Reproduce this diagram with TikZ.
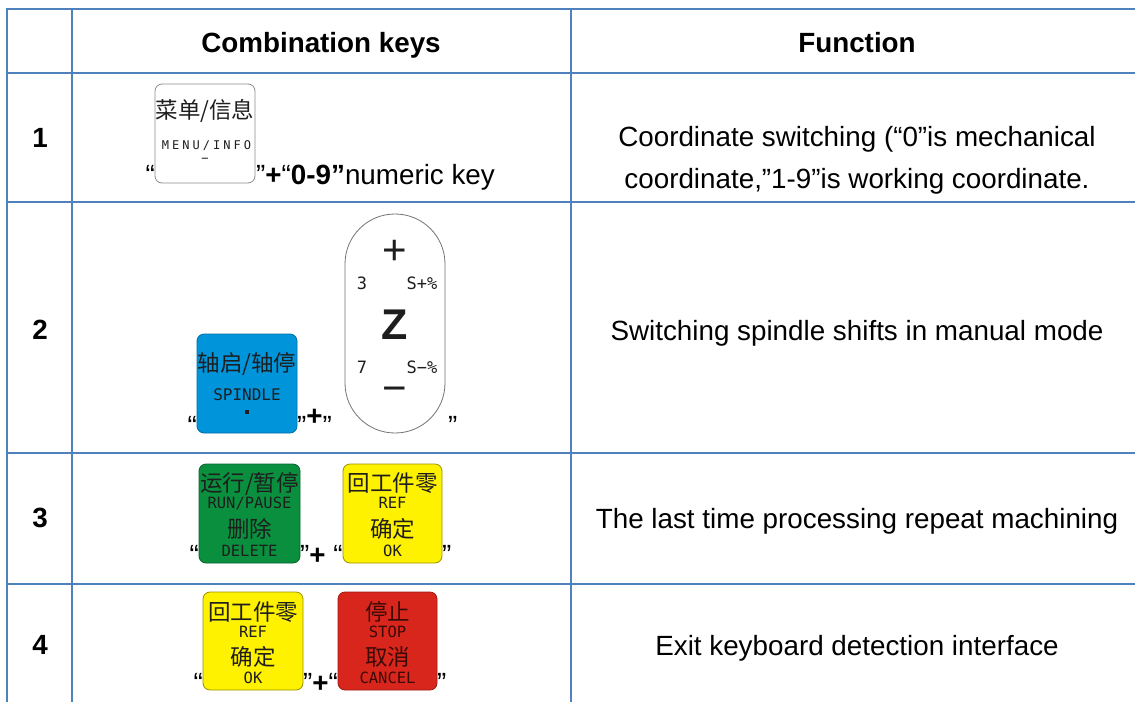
\documentclass[tikz,border=0pt]{standalone}
\usepackage{fontspec}
\setmainfont{Liberation Sans}
\newfontfamily\rkcjk{Noto Sans CJK SC}
\newfontfamily\rkmono{DejaVu Sans Mono}
\newfontfamily\rkmonowide{DejaVu Sans Mono}[LetterSpace=25]
\definecolor{gridblue}{HTML}{4F81BD}
\definecolor{keyyellow}{HTML}{FFF200}
\definecolor{keygreen}{HTML}{0A8F3F}
\definecolor{keyblue}{HTML}{0094DA}
\definecolor{keyred}{HTML}{D9261C}
\definecolor{keyink}{HTML}{1E1E1E}
\definecolor{redink}{HTML}{3A0A07}
\tikzset{
  gridline/.style={draw=gridblue, line width=2.6pt},
  txt/.style={inner sep=0pt, font=\fontsize{27.8}{33}\selectfont},
  hdr/.style={txt, font=\bfseries\fontsize{27.8}{33}\selectfont, anchor=base},
  num/.style={txt, font=\bfseries\fontsize{27.8}{33}\selectfont},
  keycap/.style={rectangle, rounded corners=7pt, inner sep=0pt, line width=0.8pt},
  cjklab/.style={inner sep=0pt, anchor=base, text=keyink, font=\rkcjk\fontsize{22.5}{24}\selectfont},
  monolab/.style={inner sep=0pt, anchor=base, text=keyink, font=\rkmono\fontsize{15.5}{17}\selectfont},
  pilllab/.style={inner sep=0pt, text=keyink, font=\rkmono\fontsize{17}{19}\selectfont},
}
\begin{document}
\begin{tikzpicture}[x=1pt,y=-1pt]
\useasboundingbox (0,0) rectangle (1135,702);
\fill[white] (0,0) rectangle (1135,702);

% table grid
\draw[gridline] (1135,9) -- (7,9) -- (7,702);
\draw[gridline] (72,9) -- (72,702);
\draw[gridline] (571,9) -- (571,702);
\draw[gridline] (7,73) -- (1135,73);
\draw[gridline] (7,202) -- (1135,202);
\draw[gridline] (7,453) -- (1135,453);
\draw[gridline] (7,584) -- (1135,584);

% header
\node[hdr] (hkeys) at (321,52) {Combination keys};
\node[hdr] (hfunc) at (857,52) {Function};

% row numbers
\node[num] (n1) at (40,138) {1};
\node[num] (n2) at (40,330) {2};
\node[num] (n3) at (40,518) {3};
\node[num] (n4) at (40,645) {4};

% ---------- row 1 ----------
\node[keycap, draw=black!45, fill=white, minimum width=100pt, minimum height=99pt] (k1) at (205,133.5) {};
\node[cjklab] (k1a) at (205,118.5) {菜单/信息};
\node[inner sep=0pt, anchor=base, text=keyink, font=\rkmonowide\fontsize{12}{14}\selectfont] (k1b) at (206.5,149.5) {MENU/INFO};
\node[inner sep=0pt, text=keyink, font=\rkmono\fontsize{12}{14}\selectfont] (k1c) at (205,160) {−};
\node[txt, anchor=base east] (q1a) at (155,184) {“};
\node[txt, anchor=base west] (r1t) at (256,184) {”\textbf{+}“\textbf{0-9”}numeric key};
\node[txt, anchor=base] (f1a) at (857,146) {Coordinate switching (“0”is mechanical};
\node[txt, anchor=base] (f1b) at (857,188) {coordinate,”1-9”is working coordinate.};

% ---------- row 2 ----------
\node[keycap, draw=keyblue!75!black, fill=keyblue, minimum width=100pt, minimum height=99pt] (k2) at (247,383.5) {};
\node[cjklab] (k2a) at (247,371.5) {轴启/轴停};
\node[monolab, font=\rkmono\fontsize{16}{18}\selectfont] (k2b) at (247,400.8) {SPINDLE};
\fill[keyink] (245,410) rectangle (249,414);
\node[keycap, rounded corners=49.9pt, draw=black!55, fill=white, minimum width=100pt, minimum height=219pt] (zk) at (395,323.5) {};
\node[inner sep=0pt, text=keyink, font=\fontsize{42}{44}\selectfont] (zplus) at (395,252) {+};
\node[pilllab] (z3) at (362,283) {3};
\node[pilllab] (zsp) at (422,283) {S+\%};
\node[inner sep=0pt, text=keyink, font=\bfseries\fontsize{43}{45}\selectfont] (zz) at (395,325) {Z};
\node[pilllab] (z7) at (362,367) {7};
\node[pilllab] (zsm) at (422,367) {S−\%};
\node[inner sep=0pt, text=keyink, font=\fontsize{42}{44}\selectfont] (zminus) at (395,395) {−};
\node[txt, anchor=base east] (q2a) at (197,435) {“};
\node[txt, anchor=base west] (q2b) at (297,435) {”\raisebox{10pt}{\textbf{+}}”};
\node[txt, anchor=base west] (q2c) at (448,435) {”};
\node[txt, anchor=base] (f2) at (857,340) {Switching spindle shifts in manual mode};

% ---------- row 3 ----------
\node[keycap, draw=keygreen!70!black, fill=keygreen, minimum width=101pt, minimum height=99pt] (k3) at (249.5,513.5) {};
\node[cjklab] (k3a) at (249.5,491.5) {运行/暂停};
\node[monolab] (k3b) at (249.5,508.5) {RUN/PAUSE};
\node[cjklab] (k3c) at (249.5,537.5) {删除};
\node[monolab] (k3d) at (249.5,556.5) {DELETE};
\node[keycap, draw=keyyellow!60!black, fill=keyyellow, minimum width=99pt, minimum height=99pt] (k4) at (392.5,513.5) {};
\node[cjklab] (k4a) at (392.5,491.5) {回工件零};
\node[monolab] (k4b) at (392.5,508.5) {REF};
\node[cjklab] (k4c) at (392.5,537.5) {确定};
\node[monolab] (k4d) at (392.5,556.5) {OK};
\node[txt, anchor=base east] (q3a) at (199,564) {“};
\node[txt, anchor=base west] (q3b) at (300,564) {”\textbf{+} “};
\node[txt, anchor=base west] (q3c) at (442,564) {”};
\node[txt, anchor=base] (f3) at (857,528) {The last time processing repeat machining};

% ---------- row 4 ----------
\node[keycap, draw=keyyellow!60!black, fill=keyyellow, minimum width=100pt, minimum height=98pt] (k5) at (253,641) {};
\node[cjklab] (k5a) at (253,620.5) {回工件零};
\node[monolab] (k5b) at (253,637.5) {REF};
\node[cjklab] (k5c) at (253,665.5) {确定};
\node[monolab] (k5d) at (253,683.5) {OK};
\node[keycap, draw=keyred!70!black, fill=keyred, minimum width=99pt, minimum height=98pt] (k6) at (387.5,641) {};
\node[cjklab, text=redink] (k6a) at (387.5,620.5) {停止};
\node[monolab, text=redink] (k6b) at (387.5,637.5) {STOP};
\node[cjklab, text=redink] (k6c) at (387.5,665.5) {取消};
\node[monolab, text=redink] (k6d) at (387.5,683.5) {CANCEL};
\node[txt, anchor=base east] (q4a) at (203,692) {“};
\node[txt, anchor=base west] (q4b) at (303,692) {”\textbf{+}“};
\node[txt, anchor=base west] (q4c) at (437,692) {”};
\node[txt, anchor=base] (f4) at (857,655) {Exit keyboard detection interface};
\end{tikzpicture}
\end{document}
